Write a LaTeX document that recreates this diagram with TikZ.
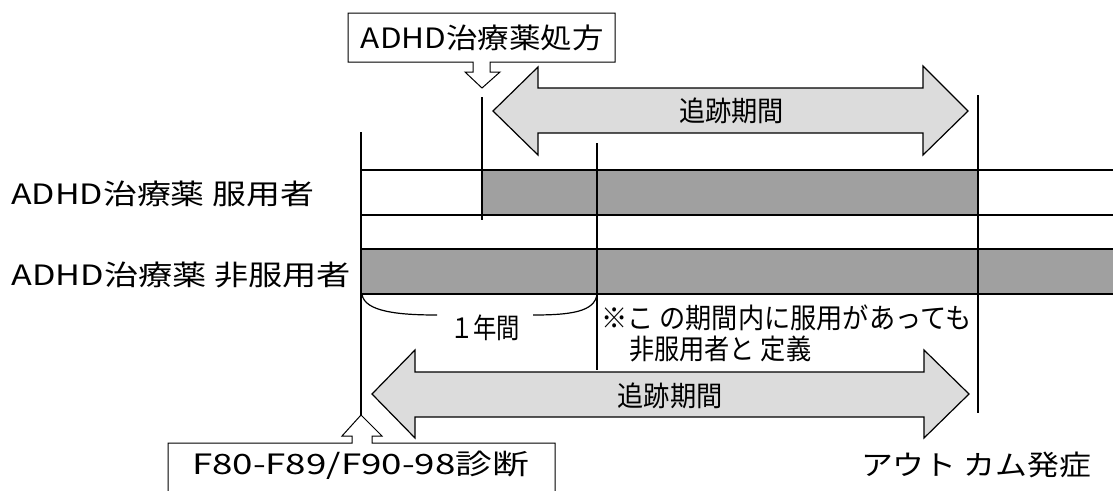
\documentclass[tikz,border=0pt]{standalone}
\usepackage{fontspec}
\setmainfont{Noto Sans CJK JP}
\usepackage{graphicx}
\newcommand{\fitw}[2]{\resizebox{#1}{\height}{#2}}
\definecolor{bandgray}{HTML}{A0A0A0}
\definecolor{arrowgray}{HTML}{DCDCDC}
\begin{document}
\begin{tikzpicture}[x=1pt,y=-1pt,
  txt/.style={inner sep=0pt, font=\fontsize{28}{32}\selectfont},
  ln/.style={line width=1.2pt, black},
  band/.style={fill=bandgray, draw=none},
  bigarrow/.style={fill=arrowgray, draw=black, line width=1.2pt, line join=miter},
  callout/.style={fill=white, draw=black, line width=1pt}]
\useasboundingbox (0,0) rectangle (1113,490);

% bands
\fill[band] (482,170) rectangle (978,215);
\fill[band] (360,249) rectangle (1113,294);
\draw[ln] (360,170) -- (1113,170);
\draw[ln] (360,215) -- (1113,215);
\draw[ln] (360,249) -- (1113,249);
\draw[ln] (360,294) -- (1113,294);

% vertical lines
\coordinate (diagTop) at (361,132);
\coordinate (diagBot) at (361,415);
\draw[ln] (diagTop) -- (diagBot);
\draw[ln] (482,97) -- (482,220);
\draw[ln] (597,143) -- (597,370);
\draw[ln] (978,95) -- (978,413);

% brace
\draw[ln] (362,294) .. controls (364,312) and (400,315) .. (437,315);
\draw[ln] (533,315) .. controls (570,315) and (595,312) .. (597,294);

% top follow-up arrow
\draw[bigarrow] (493,111) -- (538,67) -- (538,88) -- (923,88) -- (923,66) -- (968,111)
  -- (923,155) -- (923,133) -- (538,133) -- (538,155) -- cycle;
% bottom follow-up arrow
\draw[bigarrow] (372,394) -- (415,350) -- (415,372) -- (924,372) -- (924,350) -- (969,394)
  -- (924,438) -- (924,417) -- (415,417) -- (415,438) -- cycle;

% top callout
\draw[callout] (473,62) -- (348,62) -- (348,13) -- (615,13) -- (615,62) -- (490,62)
  -- (490,72) -- (500,72) -- (482,88) -- (465,72) -- (473,72) -- cycle;
% bottom callout
\draw[callout] (168,495) -- (168,443) -- (352,443) -- (352,436) -- (342,436) -- (361,415)
  -- (382,436) -- (372,436) -- (372,443) -- (555,443) -- (555,495);

% texts
\node[txt] (rx) at (482.5,37.5) {\fitw{243pt}{ADHD治療薬処方}};
\node[txt] (fu1) at (731.5,111) {\fitw{105pt}{追跡期間}};
\node[txt] (fu2) at (670,396) {\fitw{105pt}{追跡期間}};
\node[txt, anchor=west] (users) at (11,193.5) {\fitw{303pt}{ADHD治療薬 服用者}};
\node[txt, anchor=west] (nonusers) at (11,274.5) {\fitw{340pt}{ADHD治療薬 非服用者}};
\node[txt] (year) at (485,327.5) {\fitw{70pt}{１年間}};
\node[txt, anchor=west] (note1) at (601,318) {\fitw{370pt}{※こ の期間内に服用があっても}};
\node[txt, anchor=west] (note2) at (629,349) {\fitw{182pt}{非服用者と 定義}};
\node[txt] (diag) at (360.5,465) {\fitw{337pt}{F80-F89/F90-98診断}};
\node[txt] (outcome) at (976,464.5) {\fitw{230pt}{アウト カム発症}};
\end{tikzpicture}
\end{document}
